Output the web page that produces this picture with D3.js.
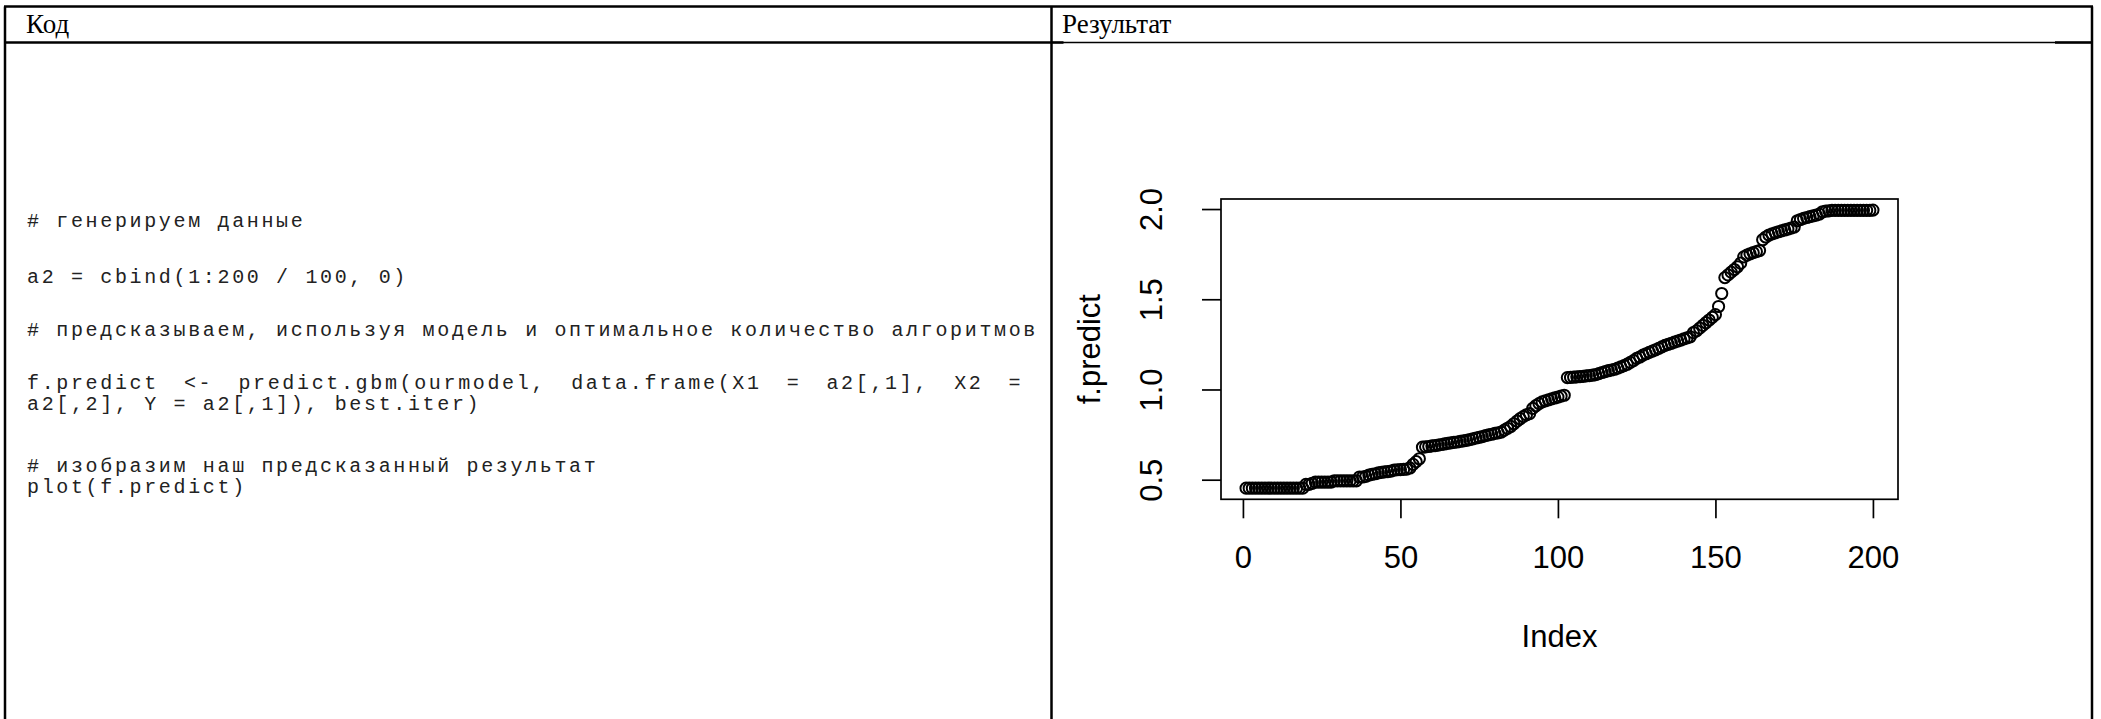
<!DOCTYPE html>
<html>
<head>
<meta charset="utf-8">
<script src="https://cdn.jsdelivr.net/npm/d3@7"></script>
<style>
    body { margin: 0; background: #fff; }
    svg { display: block; }
</style>
</head>
<body>
<div id="page"></div>
<script>
/* ----------------------- Data ----------------------- */
const headers = ["Код", "Результат"];

const codeLines = [
    "# генерируем данные",
    "a2 = cbind(1:200 / 100, 0)",
    "# предсказываем, используя модель и оптимальное количество алгоритмов",
    "f.predict <- predict.gbm(ourmodel, data.frame(X1 = a2[,1], X2 =",
    "a2[,2], Y = a2[,1]), best.iter)",
    "# изобразим наш предсказанный результат",
    "plot(f.predict)"
];

const xTicks = [0, 50, 100, 150, 200];
const yTicks = [0.5, 1.0, 1.5, 2.0];
const xLabel = "Index";
const yLabel = "f.predict";

// f.predict values (index 1..200)
const fPredict = [
    0.453, 0.453, 0.453, 0.453, 0.453, 0.453, 0.453, 0.453, 0.453, 0.453,
    0.453, 0.453, 0.453, 0.453, 0.453, 0.453, 0.453, 0.453, 0.453, 0.474,
    0.474, 0.480, 0.487, 0.487, 0.487, 0.487, 0.487, 0.487, 0.494, 0.494,
    0.494, 0.494, 0.494, 0.494, 0.494, 0.494, 0.515, 0.515, 0.518, 0.525,
    0.530, 0.533, 0.538, 0.541, 0.543, 0.545, 0.548, 0.553, 0.555, 0.556,
    0.557, 0.559, 0.565, 0.585, 0.600, 0.616, 0.680, 0.682, 0.684, 0.687,
    0.689, 0.692, 0.695, 0.698, 0.701, 0.704, 0.707, 0.709, 0.712, 0.715,
    0.718, 0.722, 0.726, 0.731, 0.735, 0.739, 0.744, 0.748, 0.752, 0.757,
    0.760, 0.764, 0.775, 0.785, 0.795, 0.810, 0.825, 0.838, 0.850, 0.860,
    0.866, 0.895, 0.910, 0.922, 0.931, 0.937, 0.942, 0.948, 0.953, 0.958,
    0.963, 0.968, 1.066, 1.067, 1.068, 1.070, 1.071, 1.073, 1.075, 1.077,
    1.079, 1.082, 1.088, 1.094, 1.099, 1.104, 1.108, 1.112, 1.118, 1.125,
    1.132, 1.140, 1.150, 1.160, 1.172, 1.180, 1.190, 1.198, 1.206, 1.213,
    1.220, 1.228, 1.236, 1.244, 1.250, 1.256, 1.262, 1.268, 1.274, 1.280,
    1.286, 1.292, 1.315, 1.325, 1.340, 1.355, 1.370, 1.385, 1.400, 1.415,
    1.460, 1.532, 1.620, 1.635, 1.650, 1.665, 1.680, 1.700, 1.735, 1.745,
    1.752, 1.758, 1.764, 1.770, 1.830, 1.845, 1.856, 1.862, 1.868, 1.874,
    1.879, 1.884, 1.889, 1.894, 1.900, 1.935, 1.942, 1.948, 1.953, 1.958,
    1.962, 1.966, 1.972, 1.985, 1.988, 1.990, 1.993, 1.993, 1.993, 1.993,
    1.993, 1.993, 1.993, 1.993, 1.993, 1.993, 1.993, 1.993, 1.993, 1.994
];

/* ----------------------- Page / table ----------------------- */
const W = 2101, H = 719;
const svg = d3.select("#page").append("svg")
    .attr("width", W)
    .attr("height", H);

const table = svg.append("g").attr("stroke", "#000").attr("fill", "none");
const tLeft = 5, tRight = 2092, tTop = 6.5, headY = 42.5, divX = 1051.5;

table.append("line").attr("x1", tLeft - 1).attr("x2", tRight + 1).attr("y1", tTop).attr("y2", tTop).attr("stroke-width", 2.5);
table.append("line").attr("x1", tLeft).attr("x2", tLeft).attr("y1", tTop).attr("y2", H).attr("stroke-width", 2.5);
table.append("line").attr("x1", tRight).attr("x2", tRight).attr("y1", tTop).attr("y2", H).attr("stroke-width", 2.5);
table.append("line").attr("x1", divX).attr("x2", divX).attr("y1", tTop).attr("y2", H).attr("stroke-width", 2.5);
// header separator: full weight in the left cell, thin in the right one
table.append("line").attr("x1", tLeft).attr("x2", divX + 12).attr("y1", headY).attr("y2", headY).attr("stroke-width", 2.5);
table.append("line").attr("x1", divX).attr("x2", tRight).attr("y1", headY).attr("y2", headY).attr("stroke-width", 1.3);
table.append("line").attr("x1", 2055).attr("x2", tRight).attr("y1", headY).attr("y2", headY).attr("stroke-width", 2.5);

svg.selectAll(".header")
    .data(headers)
    .enter()
    .append("text")
    .attr("class", "header")
    .attr("x", (d, i) => (i === 0 ? 26 : 1062))
    .attr("y", 33)
    .style("font-family", "'Liberation Serif', 'Times New Roman', serif")
    .style("font-size", "27px")
    .style("fill", "#000")
    .text((d) => d);

/* ----------------------- Code block ----------------------- */
const codeX = 27;
const charW = 14.65;
const codeSize = 20;
const codeBaselines = [227, 283, 336, 389, 410, 472, 493];
const justifyWidth = 68 * charW; // width of the longest line

const codeG = svg.append("g")
    .style("font-family", "'Liberation Mono', 'Courier New', monospace")
    .style("font-size", codeSize + "px")
    .style("letter-spacing", (charW - codeSize * 0.6) + "px")
    .style("fill", "#222");

codeLines.forEach((line, i) => {
    const t = codeG.append("text")
        .attr("y", codeBaselines[i])
        .attr("xml:space", "preserve");
    if (i === 3) {
        // justified line of a wrapped paragraph
        const words = line.split(" ");
        const used = d3.sum(words, (w) => w.length) * charW;
        const gap = (justifyWidth - used) / (words.length - 1);
        let xPos = codeX;
        words.forEach((w) => {
            t.append("tspan").attr("x", xPos).text(w);
            xPos += w.length * charW + gap;
        });
    } else {
        t.attr("x", codeX).text(line);
    }
});

/* ----------------------- Plot ----------------------- */
const plot = { left: 1221, right: 1898, top: 199, bottom: 499.3 };
const points = fPredict.map((v, i) => ({ index: i + 1, value: v }));

// R style 4% padding of the data range
const pad = (ext) => {
    const r = ext[1] - ext[0];
    return [ext[0] - 0.04 * r, ext[1] + 0.04 * r];
};

const x = d3.scaleLinear()
    .domain(pad(d3.extent(points, (d) => d.index)))
    .range([plot.left, plot.right]);
const y = d3.scaleLinear()
    .domain(pad(d3.extent(points, (d) => d.value)))
    .range([plot.bottom, plot.top]);

const labelFont = "'Liberation Sans', Arial, sans-serif";

// x axis
const xAxisGroup = svg.append("g")
    .attr("transform", `translate(0,${plot.bottom})`)
    .call(d3.axisBottom(x).tickValues(xTicks).tickSize(19).tickSizeOuter(0));
xAxisGroup.select(".domain").remove();
xAxisGroup.selectAll(".tick line").attr("stroke", "#000").attr("stroke-width", 1.7);
xAxisGroup.selectAll(".tick text")
    .attr("y", 68.7)
    .attr("dy", 0)
    .style("font-family", labelFont)
    .style("font-size", "31px")
    .style("fill", "#000");

// y axis
const yAxisGroup = svg.append("g")
    .attr("transform", `translate(${plot.left},0)`)
    .call(d3.axisLeft(y).tickValues(yTicks).tickSize(19).tickSizeOuter(0).tickFormat(d3.format(".1f")));
yAxisGroup.select(".domain").remove();
yAxisGroup.selectAll(".tick line").attr("stroke", "#000").attr("stroke-width", 1.7);
yAxisGroup.selectAll(".tick text")
    .attr("x", 0)
    .attr("dy", 0)
    .attr("transform", "translate(-59,0) rotate(-90)")
    .attr("text-anchor", "middle")
    .style("font-family", labelFont)
    .style("font-size", "31px")
    .style("fill", "#000");

// plot frame
svg.append("rect")
    .attr("x", plot.left)
    .attr("y", plot.top)
    .attr("width", plot.right - plot.left)
    .attr("height", plot.bottom - plot.top)
    .attr("fill", "none")
    .attr("stroke", "#000")
    .attr("stroke-width", 1.7);

// axis titles
svg.append("text")
    .attr("x", (plot.left + plot.right) / 2)
    .attr("y", 647)
    .attr("text-anchor", "middle")
    .style("font-family", labelFont)
    .style("font-size", "31px")
    .style("fill", "#000")
    .text(xLabel);

svg.append("text")
    .attr("transform", `translate(1100,${(plot.top + plot.bottom) / 2}) rotate(-90)`)
    .attr("text-anchor", "middle")
    .style("font-family", labelFont)
    .style("font-size", "31px")
    .style("fill", "#000")
    .text(yLabel);

// points (open circles)
svg.append("g")
    .selectAll("circle")
    .data(points)
    .enter()
    .append("circle")
    .attr("cx", (d) => x(d.index))
    .attr("cy", (d) => y(d.value))
    .attr("r", 5.6)
    .attr("fill", "none")
    .attr("stroke", "#000")
    .attr("stroke-width", 2);
</script>
</body>
</html>
